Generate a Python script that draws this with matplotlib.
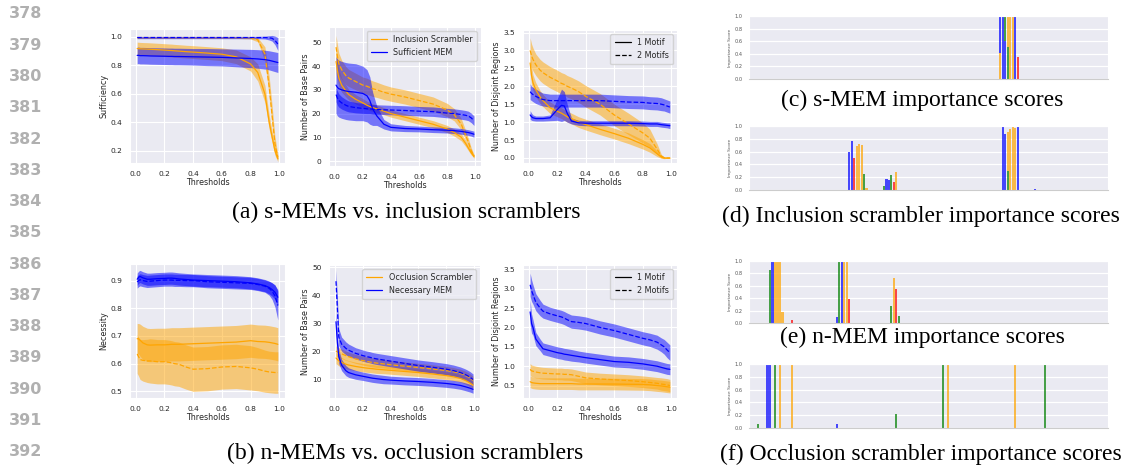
import numpy as np
import matplotlib.pyplot as plt
from matplotlib.lines import Line2D
import seaborn as sns

sns.set_style('darkgrid')
plt.rcParams['font.family'] = ['DejaVu Sans']

W, H = 1124, 465

# ---------------- line plot data ----------------
thresholds = [0.01, 0.02, 0.03, 0.05, 0.08, 0.1, 0.15, 0.2, 0.23, 0.25, 0.27, 0.3,
              0.35, 0.4, 0.5, 0.6, 0.7, 0.8, 0.85, 0.9, 0.93, 0.95, 0.97, 0.99]

# (a) sufficiency
suf_inc1 = [0.918, 0.917, 0.916, 0.915, 0.914, 0.913, 0.91, 0.907, 0.905, 0.904, 0.902, 0.9,
            0.896, 0.893, 0.886, 0.878, 0.86, 0.81, 0.75, 0.6, 0.4, 0.3, 0.2, 0.145]
suf_inc1_sd = [0.045, 0.045, 0.045, 0.045, 0.045, 0.045, 0.045, 0.045, 0.045, 0.045, 0.045, 0.045,
               0.045, 0.045, 0.045, 0.045, 0.048, 0.05, 0.06, 0.06, 0.05, 0.04, 0.03, 0.02]
suf_inc2 = [0.995, 0.995, 0.995, 0.995, 0.995, 0.995, 0.995, 0.995, 0.995, 0.995, 0.995, 0.995,
            0.995, 0.995, 0.995, 0.995, 0.995, 0.993, 0.98, 0.88, 0.65, 0.45, 0.25, 0.155]
suf_inc2_sd = [0.006, 0.006, 0.006, 0.006, 0.006, 0.006, 0.006, 0.006, 0.006, 0.006, 0.006, 0.006,
               0.006, 0.006, 0.006, 0.006, 0.006, 0.008, 0.015, 0.05, 0.07, 0.07, 0.05, 0.02]
suf_mem1 = [0.87, 0.87, 0.868, 0.868, 0.867, 0.866, 0.865, 0.864, 0.863, 0.863, 0.862, 0.862,
            0.861, 0.86, 0.858, 0.856, 0.852, 0.848, 0.845, 0.84, 0.835, 0.83, 0.825, 0.82]
suf_mem1_sd = [0.058, 0.058, 0.058, 0.058, 0.058, 0.058, 0.058, 0.058, 0.058, 0.058, 0.058, 0.058,
               0.058, 0.058, 0.06, 0.06, 0.062, 0.064, 0.065, 0.066, 0.067, 0.068, 0.069, 0.07]
suf_mem2 = [0.995, 0.995, 0.995, 0.995, 0.995, 0.995, 0.995, 0.995, 0.995, 0.995, 0.995, 0.995,
            0.995, 0.995, 0.995, 0.995, 0.995, 0.995, 0.995, 0.995, 0.993, 0.99, 0.975, 0.95]
suf_mem2_sd = [0.008, 0.008, 0.008, 0.008, 0.008, 0.008, 0.008, 0.008, 0.008, 0.008, 0.008, 0.008,
               0.008, 0.008, 0.008, 0.008, 0.008, 0.008, 0.008, 0.01, 0.015, 0.02, 0.03, 0.045]

# (a) base pairs
sbp_inc1 = [42, 38, 35, 32, 29.5, 28, 26, 24.5, 23.5, 23, 22.5, 22,
            21, 20, 18.5, 17, 15.5, 13.5, 12, 10, 7.5, 5.5, 3.5, 2]
sbp_inc1_sd = [5, 4, 3.5, 3, 2.5, 2.2, 2, 1.8, 1.7, 1.7, 1.6, 1.6,
               1.5, 1.5, 1.5, 1.5, 1.5, 1.5, 1.5, 1.5, 1.3, 1.1, 0.9, 0.7]
sbp_inc2 = [48, 44, 41, 38.5, 36, 35, 33.5, 32, 31.5, 31, 30.5, 30,
            29, 28.2, 27, 25.5, 24, 21.5, 19.5, 15.5, 11, 8, 4.5, 2]
sbp_inc2_sd = [5, 5, 4.5, 4, 3.8, 3.6, 3.5, 3.4, 3.4, 3.3, 3.3, 3.2,
               3.1, 3, 3, 3, 3, 2.8, 2.6, 2.4, 2, 1.6, 1.2, 0.8]
sbp_mem1 = [32, 31, 30.5, 30, 29.5, 29.3, 29, 28.5, 27.5, 25.5, 22, 19,
            15.5, 14.2, 13.7, 13.5, 13.2, 13, 12.8, 12.5, 12.2, 12, 11.7, 11.3]
sbp_mem1_sd = [12, 12, 12, 12, 12, 12, 12, 11.5, 11, 10, 7, 4,
               2, 1.5, 1.3, 1.2, 1.2, 1.2, 1.2, 1.2, 1.2, 1.2, 1.2, 1.3]
sbp_mem2 = [28, 26.5, 25.5, 24.5, 23.5, 23, 22.5, 22.2, 22, 22, 21.8, 21.7,
            21.6, 21.5, 21.3, 21, 20.8, 20.2, 20, 19.6, 19.3, 19, 18.2, 17]
sbp_mem2_sd = [3, 3, 2.8, 2.6, 2.4, 2.3, 2.2, 2.1, 2, 2, 2, 2,
               2, 2, 2, 2, 2, 2, 2, 2, 2, 2, 2, 2]

# (a) disjoint regions
sdr_inc1 = [2.65, 2.3, 2.1, 1.9, 1.7, 1.6, 1.4, 1.3, 1.25, 1.2, 1.15, 1.1,
            1.0, 0.93, 0.8, 0.68, 0.55, 0.38, 0.28, 0.12, 0.03, 0.0, 0.0, 0.0]
sdr_inc1_sd = [0.3, 0.25, 0.22, 0.2, 0.18, 0.17, 0.16, 0.15, 0.15, 0.15, 0.15, 0.15,
               0.15, 0.15, 0.15, 0.15, 0.15, 0.13, 0.12, 0.08, 0.04, 0.02, 0.01, 0.01]
sdr_inc2 = [3.0, 2.85, 2.75, 2.6, 2.45, 2.38, 2.25, 2.15, 2.08, 2.05, 2.0, 1.95,
            1.85, 1.72, 1.5, 1.2, 0.95, 0.7, 0.55, 0.25, 0.05, 0.01, 0.0, 0.0]
sdr_inc2_sd = [0.35, 0.33, 0.32, 0.3, 0.3, 0.3, 0.3, 0.3, 0.3, 0.3, 0.3, 0.3,
               0.3, 0.3, 0.3, 0.3, 0.3, 0.28, 0.25, 0.15, 0.05, 0.02, 0.01, 0.01]
sdr_mem1 = [1.2, 1.15, 1.12, 1.1, 1.1, 1.1, 1.12, 1.35, 1.47, 1.45, 1.25, 1.03,
            0.98, 0.97, 0.97, 0.97, 0.97, 0.96, 0.95, 0.95, 0.93, 0.92, 0.91, 0.9]
sdr_mem1_sd = [0.12, 0.1, 0.08, 0.07, 0.07, 0.07, 0.08, 0.3, 0.45, 0.4, 0.25, 0.08,
               0.07, 0.07, 0.07, 0.07, 0.07, 0.07, 0.07, 0.07, 0.07, 0.07, 0.07, 0.08]
sdr_mem2 = [1.85, 1.8, 1.77, 1.72, 1.66, 1.63, 1.6, 1.6, 1.6, 1.6, 1.6, 1.6,
            1.6, 1.6, 1.6, 1.58, 1.56, 1.55, 1.53, 1.52, 1.5, 1.48, 1.45, 1.42]
sdr_mem2_sd = [0.22, 0.2, 0.2, 0.2, 0.19, 0.18, 0.18, 0.18, 0.18, 0.18, 0.18, 0.18,
               0.18, 0.18, 0.18, 0.18, 0.18, 0.18, 0.18, 0.18, 0.18, 0.17, 0.17, 0.17]

# (b) necessity
nec_inc1 = [0.69, 0.69, 0.685, 0.675, 0.668, 0.667, 0.668, 0.668, 0.669, 0.67, 0.67, 0.67,
            0.671, 0.672, 0.674, 0.676, 0.678, 0.683, 0.68, 0.679, 0.677, 0.675, 0.673, 0.67]
nec_inc1_sd = [0.055, 0.055, 0.058, 0.06, 0.06, 0.06, 0.06, 0.06, 0.06, 0.06, 0.06, 0.06,
               0.06, 0.06, 0.06, 0.06, 0.06, 0.06, 0.06, 0.06, 0.06, 0.06, 0.06, 0.06]
nec_inc2 = [0.635, 0.625, 0.615, 0.612, 0.61, 0.61, 0.607, 0.607, 0.605, 0.603, 0.6, 0.598,
            0.588, 0.58, 0.582, 0.588, 0.59, 0.585, 0.58, 0.573, 0.57, 0.569, 0.568, 0.568]
nec_inc2_sd = [0.07, 0.07, 0.072, 0.075, 0.078, 0.08, 0.08, 0.08, 0.08, 0.08, 0.08, 0.08,
               0.08, 0.08, 0.08, 0.08, 0.08, 0.08, 0.078, 0.076, 0.075, 0.075, 0.075, 0.075]
nec_mem1 = [0.905, 0.912, 0.915, 0.91, 0.905, 0.905, 0.907, 0.908, 0.909, 0.909, 0.908, 0.906,
            0.904, 0.902, 0.9, 0.898, 0.896, 0.892, 0.888, 0.882, 0.875, 0.868, 0.858, 0.84]
nec_mem1_sd = [0.022, 0.022, 0.022, 0.022, 0.022, 0.022, 0.022, 0.022, 0.022, 0.022, 0.022, 0.022,
               0.022, 0.022, 0.022, 0.022, 0.022, 0.022, 0.022, 0.022, 0.023, 0.024, 0.025, 0.028]
nec_mem2 = [0.895, 0.9, 0.903, 0.9, 0.897, 0.898, 0.9, 0.902, 0.902, 0.902, 0.901, 0.901,
            0.9, 0.9, 0.896, 0.894, 0.892, 0.89, 0.886, 0.88, 0.872, 0.862, 0.845, 0.81]
nec_mem2_sd = [0.022, 0.022, 0.022, 0.022, 0.022, 0.022, 0.022, 0.022, 0.022, 0.022, 0.022, 0.022,
               0.022, 0.022, 0.022, 0.022, 0.022, 0.022, 0.022, 0.022, 0.025, 0.03, 0.04, 0.052]

# (b) base pairs
nbp_inc1 = [17.5, 17, 16.5, 16, 15.3, 15, 14.5, 14.1, 13.9, 13.8, 13.7, 13.5,
            13.3, 13.1, 12.7, 12.3, 11.8, 11.2, 10.8, 10.2, 9.6, 9.1, 8.5, 7.8]
nbp_inc1_sd = [2, 1.9, 1.8, 1.7, 1.6, 1.6, 1.5, 1.5, 1.5, 1.5, 1.5, 1.5,
               1.4, 1.4, 1.4, 1.4, 1.4, 1.4, 1.4, 1.3, 1.3, 1.3, 1.3, 1.3]
nbp_inc2 = [20, 19.7, 19.4, 19, 18.4, 18, 17.2, 16.6, 16.3, 16.1, 15.9, 15.7,
            15.4, 15.1, 14.6, 14.1, 13.6, 13, 12.6, 12, 11.4, 10.9, 10.3, 9.5]
nbp_inc2_sd = [1.8, 1.8, 1.8, 1.7, 1.7, 1.6, 1.6, 1.6, 1.6, 1.6, 1.6, 1.6,
               1.5, 1.5, 1.5, 1.5, 1.5, 1.5, 1.5, 1.5, 1.5, 1.5, 1.5, 1.5]
nbp_mem1 = [30.5, 23, 18, 15, 13, 12.3, 11.5, 11, 10.7, 10.5, 10.3, 10.1,
            9.8, 9.6, 9.3, 9.1, 8.8, 8.4, 8.1, 7.7, 7.3, 7.0, 6.7, 6.3]
nbp_mem1_sd = [4, 3, 2.5, 2, 1.8, 1.7, 1.6, 1.5, 1.5, 1.5, 1.5, 1.5,
               1.5, 1.4, 1.4, 1.4, 1.4, 1.4, 1.4, 1.4, 1.4, 1.4, 1.4, 1.4]
nbp_mem2 = [45, 35, 25, 22.5, 21, 20.3, 19.2, 18.4, 18, 17.8, 17.5, 17.2,
            16.8, 16.4, 15.6, 14.8, 14.2, 13.5, 13, 12.3, 11.7, 11.2, 10.6, 9.8]
nbp_mem2_sd = [4, 4, 3, 2.5, 2.3, 2.2, 2, 2, 2, 2, 2, 2,
               2, 2, 2, 2, 2, 2, 2, 2, 2, 2, 2, 2]

# (b) disjoint regions
ndr_inc1 = [0.6, 0.58, 0.57, 0.56, 0.55, 0.55, 0.55, 0.55, 0.55, 0.55, 0.55, 0.55,
            0.54, 0.54, 0.54, 0.54, 0.535, 0.53, 0.52, 0.5, 0.49, 0.48, 0.47, 0.46]
ndr_inc1_sd = [0.15, 0.15, 0.15, 0.15, 0.15, 0.15, 0.15, 0.15, 0.15, 0.15, 0.15, 0.15,
               0.15, 0.15, 0.15, 0.15, 0.15, 0.15, 0.15, 0.15, 0.15, 0.15, 0.15, 0.15]
ndr_inc2 = [0.92, 0.88, 0.87, 0.85, 0.83, 0.82, 0.81, 0.8, 0.8, 0.79, 0.79, 0.78,
            0.74, 0.7, 0.67, 0.65, 0.63, 0.6, 0.58, 0.56, 0.54, 0.53, 0.52, 0.5]
ndr_inc2_sd = [0.15, 0.15, 0.15, 0.15, 0.15, 0.15, 0.15, 0.15, 0.15, 0.15, 0.15, 0.15,
               0.15, 0.15, 0.15, 0.15, 0.15, 0.15, 0.15, 0.15, 0.16, 0.16, 0.16, 0.16]
ndr_mem1 = [2.4, 2.1, 2.0, 1.7, 1.55, 1.45, 1.4, 1.35, 1.33, 1.31, 1.3, 1.28,
            1.25, 1.22, 1.17, 1.12, 1.1, 1.06, 1.03, 1.0, 0.97, 0.95, 0.93, 0.92]
ndr_mem1_sd = [0.3, 0.25, 0.2, 0.17, 0.15, 0.15, 0.15, 0.15, 0.15, 0.15, 0.15, 0.15,
               0.14, 0.14, 0.14, 0.14, 0.14, 0.14, 0.14, 0.14, 0.14, 0.14, 0.14, 0.14]
ndr_mem2 = [3.1, 2.95, 2.85, 2.65, 2.5, 2.42, 2.35, 2.3, 2.27, 2.24, 2.2, 2.15,
            2.13, 2.1, 2.0, 1.92, 1.82, 1.72, 1.68, 1.62, 1.55, 1.5, 1.42, 1.35]
ndr_mem2_sd = [0.3, 0.28, 0.25, 0.22, 0.2, 0.18, 0.17, 0.17, 0.17, 0.17, 0.17, 0.17,
               0.17, 0.17, 0.17, 0.17, 0.17, 0.17, 0.17, 0.18, 0.18, 0.19, 0.2, 0.2]

# ---------------- importance score data (position, nucleotide, height) ----------------
seq_len = 145
smem_pos = [101, 101, 102, 103, 103, 104, 104, 105, 106, 107, 108]
smem_nuc = ['G', 'C', 'C', 'C', 'A', 'A', 'G', 'G', 'G', 'C', 'T']
smem_hgt = [0.42, 0.58, 1.0, 0.6, 0.4, 0.5, 0.5, 1.0, 1.0, 1.0, 0.35]

incl_pos = [40, 41, 42, 43, 44, 45, 46, 47, 54, 55, 56, 57, 58, 59,
            102, 103, 104, 104, 105, 106, 107, 108, 115]
incl_nuc = ['C', 'C', 'T', 'G', 'G', 'G', 'A', 'G', 'A', 'C', 'C', 'A', 'T', 'G',
            'C', 'C', 'A', 'G', 'G', 'G', 'G', 'C', 'C']
incl_hgt = [0.6, 0.76, 0.5, 0.68, 0.72, 0.7, 0.25, 0.03, 0.07, 0.17, 0.15, 0.23, 0.12, 0.28,
            0.98, 0.88, 0.3, 0.6, 0.95, 0.98, 0.97, 0.98, 0.01]

nmem_pos = [8, 9, 10, 11, 12, 13, 17, 35, 36, 37, 38, 39, 40, 57, 58, 59, 60]
nmem_nuc = ['A', 'C', 'G', 'G', 'G', 'G', 'T', 'C', 'A', 'C', 'G', 'G', 'T', 'A', 'G', 'T', 'A']
nmem_hgt = [0.85, 1.0, 1.0, 1.0, 1.0, 0.18, 0.05, 0.1, 1.0, 1.0, 1.0, 1.0, 0.38, 0.27, 0.72, 0.55, 0.12]

occl_pos = [3, 7, 8, 10, 12, 17, 35, 59, 78, 80, 107, 119]
occl_nuc = ['A', 'C', 'C', 'A', 'G', 'G', 'C', 'A', 'A', 'G', 'G', 'A']
occl_hgt = [0.07, 1.0, 1.0, 1.0, 1.0, 1.0, 0.07, 0.22, 1.0, 1.0, 1.0, 1.0]

nuc_colors = {'A': '#008000', 'C': '#0000ff', 'G': '#ffa500', 'T': '#ff0000'}

fig = plt.figure(figsize=(W / 100, H / 100), dpi=100)
fig.patch.set_facecolor('white')


def box(l, t, r, b):
    return [l / W, 1 - b / H, (r - l) / W, (b - t) / H]


def line_panel(rect, series, ylabel, ylim, yticks, legend=None):
    ax = fig.add_axes(box(*rect))
    for color, ls, mean, sd in series:
        m, s = np.array(mean), np.array(sd)
        ax.fill_between(thresholds, m - s, m + s, color=color, alpha=0.5, lw=0)
        ax.plot(thresholds, m, color=color, ls=ls, lw=0.9)
    ax.set_xlim(-0.04, 1.04)
    ax.set_xticks([0, 0.2, 0.4, 0.6, 0.8, 1.0])
    ax.set_ylim(*ylim)
    ax.set_yticks(yticks)
    ax.tick_params(labelsize=5.4, pad=2, colors='.15')
    ax.set_xlabel('Thresholds', fontsize=5.8, labelpad=1, color='.15')
    ax.set_ylabel(ylabel, fontsize=5.8, labelpad=1.5, color='.15')
    ax.grid(color='white', lw=0.8)
    if legend is not None:
        handles = [Line2D([], [], color=legend[0][1], lw=0.9),
                   Line2D([], [], color=legend[1][1], lw=0.9)]
        if legend[0][1] == 'k':
            handles[1].set_linestyle('--')
        ax.legend(handles, [legend[0][0], legend[1][0]], loc='upper right', fontsize=5.8,
                  handlelength=2.0, borderpad=0.5, labelspacing=0.5)
    return ax


line_panel((130, 29, 285, 163),
           [('orange', '-', suf_inc1, suf_inc1_sd), ('orange', '--', suf_inc2, suf_inc2_sd),
            ('blue', '-', suf_mem1, suf_mem1_sd), ('blue', '--', suf_mem2, suf_mem2_sd)],
           'Sufficiency', (0.115, 1.055), [0.2, 0.4, 0.6, 0.8, 1.0])
line_panel((329, 27, 481, 166),
           [('orange', '-', sbp_inc1, sbp_inc1_sd), ('orange', '--', sbp_inc2, sbp_inc2_sd),
            ('blue', '-', sbp_mem1, sbp_mem1_sd), ('blue', '--', sbp_mem2, sbp_mem2_sd)],
           'Number of Base Pairs', (-2.1, 56.5), [0, 10, 20, 30, 40, 50],
           legend=[('Inclusion Scrambler', 'orange'), ('Sufficient MEM', 'blue')])
line_panel((523, 30, 677, 163),
           [('orange', '-', sdr_inc1, sdr_inc1_sd), ('orange', '--', sdr_inc2, sdr_inc2_sd),
            ('blue', '-', sdr_mem1, sdr_mem1_sd), ('blue', '--', sdr_mem2, sdr_mem2_sd)],
           'Number of Disjoint Regions', (-0.14, 3.57), [0, 0.5, 1, 1.5, 2, 2.5, 3, 3.5],
           legend=[('1 Motif', 'k'), ('2 Motifs', 'k')])

line_panel((130, 264, 285, 398),
           [('orange', '-', nec_inc1, nec_inc1_sd), ('orange', '--', nec_inc2, nec_inc2_sd),
            ('blue', '-', nec_mem1, nec_mem1_sd), ('blue', '--', nec_mem2, nec_mem2_sd)],
           'Necessity', (0.476, 0.96), [0.5, 0.6, 0.7, 0.8, 0.9])
line_panel((329, 265, 480, 398),
           [('orange', '-', nbp_inc1, nbp_inc1_sd), ('orange', '--', nbp_inc2, nbp_inc2_sd),
            ('blue', '-', nbp_mem1, nbp_mem1_sd), ('blue', '--', nbp_mem2, nbp_mem2_sd)],
           'Number of Base Pairs', (3.2, 50.8), [10, 20, 30, 40, 50],
           legend=[('Occlusion Scrambler', 'orange'), ('Necessary MEM', 'blue')])
line_panel((523, 265, 677, 398),
           [('orange', '-', ndr_inc1, ndr_inc1_sd), ('orange', '--', ndr_inc2, ndr_inc2_sd),
            ('blue', '-', ndr_mem1, ndr_mem1_sd), ('blue', '--', ndr_mem2, ndr_mem2_sd)],
           'Number of Disjoint Regions', (0.18, 3.61), [0.5, 1, 1.5, 2, 2.5, 3, 3.5],
           legend=[('1 Motif', 'k'), ('2 Motifs', 'k')])


def logo_panel(rect, pos, nuc, hgt):
    ax = fig.add_axes(box(*rect))
    base = {}
    for p, n, h in zip(pos, nuc, hgt):
        b = base.get(p, 0.0)
        ax.bar(p, h, bottom=b, width=0.9, color=nuc_colors[n], alpha=0.7, lw=0)
        base[p] = b + h
    ax.set_xlim(-0.5, seq_len - 0.5)
    ax.set_ylim(0, 1)
    ax.set_xticks([])
    ax.set_yticks([0, 0.2, 0.4, 0.6, 0.8, 1.0])
    ax.tick_params(labelsize=3.6, pad=1, colors='#555555')
    ax.set_ylabel('Importance Score', fontsize=3.2, labelpad=2, color='#555555')
    ax.grid(axis='x', visible=False)
    ax.grid(axis='y', color='white', lw=0.9)
    ax.spines['bottom'].set_visible(True)
    ax.spines['bottom'].set_color('#cccccc')
    ax.spines['bottom'].set_linewidth(0.8)
    return ax


logo_panel((749, 16, 1108, 79), smem_pos, smem_nuc, smem_hgt)
logo_panel((749, 126, 1108, 190), incl_pos, incl_nuc, incl_hgt)
logo_panel((749, 261, 1108, 323), nmem_pos, nmem_nuc, nmem_hgt)
logo_panel((749, 364, 1108, 428), occl_pos, occl_nuc, occl_hgt)

# captions
captions = ['(a) s-MEMs vs. inclusion scramblers', '(b) n-MEMs vs. occlusion scramblers',
            '(c) s-MEM importance scores', '(d) Inclusion scrambler importance scores',
            '(e) n-MEM importance scores', '(f) Occlusion scrambler importance scores']
cap_xy = [(406, 218), (405, 459), (922, 106), (921, 221.5), (922, 343), (921, 460)]
for txt, (cx, cy) in zip(captions, cap_xy):
    fig.text(cx / W, 1 - cy / H, txt, ha='center', va='baseline',
             family=['Liberation Serif', 'DejaVu Serif'], fontsize=17, color='black')

# line numbers in the margin
line_numbers = list(range(378, 393))
for i, n in enumerate(line_numbers):
    fig.text(42 / W, 1 - (14 + i * 31.26) / H, str(n), ha='right', va='center',
             fontsize=11.5, fontweight='bold', color='#b0b0b0')

fig.savefig('out.png', dpi=100, facecolor='white')
